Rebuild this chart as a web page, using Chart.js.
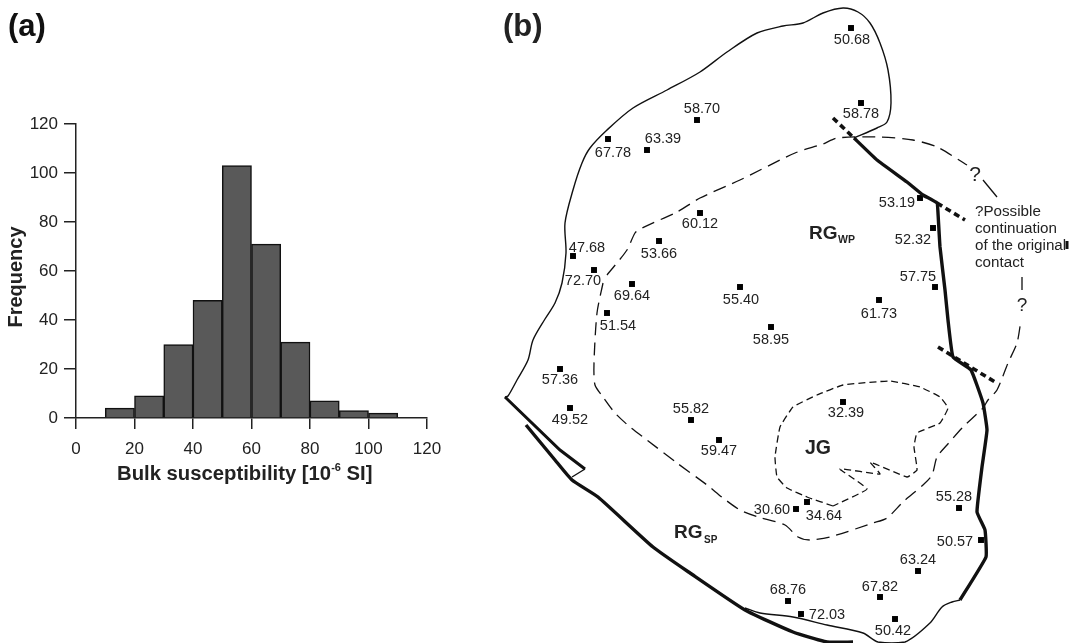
<!DOCTYPE html>
<html>
<head>
<meta charset="utf-8">
<title>Bulk susceptibility</title>
<script src="https://cdn.jsdelivr.net/npm/chart.js@4"></script>
<style>
    body { margin: 0; background: #fff; }
    canvas { position: absolute; top: 0; }
    #histChart { left: 0; }
    #mapChart { left: 490px; }
</style>
</head>
<body>
<canvas id="histChart" width="490" height="643"></canvas>
<canvas id="mapChart" width="583" height="643"></canvas>
<script>
// (a) histogram data
const binCenters = [15, 25, 35, 45, 55, 65, 75, 85, 95, 105];
const frequency = [4, 9, 30, 48, 103, 71, 31, 7, 3, 2];

// (b) sample sites, in map units
const sampleX = [851, 861, 697, 647, 608, 700, 659, 573, 594, 632, 740, 607, 920, 933, 935, 879, 771, 560, 570, 691, 719, 796, 807, 843, 959, 981, 918, 880, 788, 801, 895];
const sampleY = [28, 103, 120, 150, 139, 213, 241, 256, 270, 284, 287, 313, 198, 228, 287, 300, 327, 369, 408, 420, 440, 509, 502, 402, 508, 540, 571, 597, 601, 614, 619];
const sampleValues = ["50.68", "58.78", "58.70", "63.39", "67.78", "60.12", "53.66", "47.68", "72.70", "69.64", "55.40", "51.54", "53.19", "52.32", "57.75", "61.73", "58.95", "57.36", "49.52", "55.82", "59.47", "30.60", "34.64", "32.39", "55.28", "50.57", "63.24", "67.82", "68.76", "72.03", "50.42"];
const labelX = [852, 861, 702, 663, 613, 700, 659, 587, 583, 632, 741, 618, 897, 913, 918, 879, 771, 560, 570, 691, 719, 772, 824, 846, 954, 955, 918, 880, 788, 827, 893];
const labelY = [39, 113, 108, 138, 152, 223, 253, 247, 280, 295, 299, 325, 202, 239, 276, 313, 339, 379, 419, 408, 450, 509, 515, 412, 496, 541, 559, 586, 589, 614, 630];

// map lines
const outlineNorth = [[505, 397], [508, 396], [517, 380], [528, 360], [533, 340], [545, 319], [555, 303], [562, 283], [566, 253], [565, 223], [573, 190], [582, 163], [590, 148], [607, 130], [633, 108], [667, 90], [700, 72], [727, 52], [757, 33], [783, 26], [803, 23], [823, 13], [843, 8], [858, 12], [870, 23], [880, 43], [888, 70], [891, 103], [887, 122], [877, 128], [854, 138]];
const outlineSouth = [[960, 600], [952, 602], [942, 607], [930, 623], [905, 642], [878, 642], [863, 633], [827, 625], [793, 617], [760, 613], [745, 608]];
const outlineTab = [[585, 469], [572, 477]];
const contactEast = [[854, 138], [877, 160], [907, 182], [923, 195], [937, 203], [938, 213], [940, 247], [945, 290], [948, 320], [953, 357], [971, 370], [983, 403], [987, 430], [982, 467], [977, 512], [985, 530], [986, 557], [960, 600]];
const contactWest = [[505, 397], [560, 450], [585, 469]];
const contactSouth = [[526, 425], [555, 460], [572, 480], [598, 497], [653, 547], [690, 573], [745, 610], [793, 632], [827, 642], [853, 642]];
const faultNorth = [[833, 118], [854, 138]];
const faultMiddle = [[937, 203], [965, 220]];
const faultSouth = [[938, 347], [995, 382]];
const innerContact = [[603, 283], [597, 313], [594, 363], [595, 385], [603, 397], [615, 413], [630, 427], [647, 440], [677, 463], [707, 485], [723, 498], [740, 510], [758, 517], [785, 525], [798, 537], [810, 540], [830, 537], [873, 523], [887, 518], [903, 502], [923, 485], [932, 475], [937, 457], [947, 445], [963, 427], [983, 408], [988, 400], [997, 390], [1008, 363], [1017, 343], [1021, 320]];
const innerContactNorth = [[607, 275], [627, 250], [635, 233], [642, 228], [677, 212], [700, 198], [740, 180], [795, 153], [823, 144], [837, 138], [880, 137], [913, 140], [937, 147], [967, 165]];
const innerContactEast = [[983, 180], [997, 197]];
const innerContactStub = [[1022, 277], [1022, 290]];
const graniteOutline = [[833, 506], [807, 497], [787, 488], [777, 477], [775, 457], [780, 427], [793, 407], [817, 395], [843, 385], [890, 381], [920, 387], [940, 397], [948, 408], [940, 423], [917, 433], [914, 447], [917, 470], [907, 477], [870, 462], [880, 474], [840, 469], [867, 489], [833, 506]];
const stray = [[1067, 241], [1067, 249]];

// plugin for the text chart.js has no slot for
const textPlugin = {
    id: 'panelText',
    afterDraw(chart, args, opts) {
        const ctx = chart.ctx;
        ctx.save();
        opts.draw(ctx, chart);
        ctx.restore();
    }
};

function put(ctx, str, x, y, font, color, align) {
    ctx.font = font;
    ctx.fillStyle = color || '#222';
    ctx.textAlign = align || 'center';
    ctx.textBaseline = 'middle';
    ctx.fillText(str, x, y);
}

const sans = '"Liberation Sans"';

new Chart(document.getElementById('histChart'), {
    type: 'bar',
    data: {
        datasets: [{
            data: binCenters.map((x, i) => ({ x: x, y: frequency[i] })),
            backgroundColor: '#595959',
            borderColor: '#111',
            borderWidth: 1.5,
            barPercentage: 1,
            categoryPercentage: 1
        }]
    },
    options: {
        responsive: false,
        animation: false,
        layout: { padding: { top: 124, right: 63, bottom: 170, left: 0 } },
        plugins: {
            legend: { display: false },
            tooltip: { enabled: false },
            panelText: {
                draw(ctx) {
                    put(ctx, '(a)', 8, 27, 'bold 31px ' + sans, '#111', 'left');
                    ctx.save();
                    ctx.translate(16, 277);
                    ctx.rotate(-Math.PI / 2);
                    put(ctx, 'Frequency', 0, 0, 'bold 20px ' + sans, '#222');
                    ctx.restore();
                    put(ctx, 'Bulk susceptibility [10', 117, 474, 'bold 20.3px ' + sans, '#222', 'left');
                    const w = ctx.measureText('Bulk susceptibility [10').width;
                    put(ctx, '-6', 117 + w, 468, 'bold 11px ' + sans, '#222', 'left');
                    const w2 = ctx.measureText('-6').width;
                    put(ctx, ' SI]', 117 + w + w2, 474, 'bold 20.3px ' + sans, '#222', 'left');
                }
            }
        },
        scales: {
            x: {
                type: 'linear',
                offset: false,
                min: 0,
                max: 120,
                ticks: { stepSize: 20, color: '#222', padding: 10, maxRotation: 0, font: { family: 'Liberation Sans', size: 17 } },
                grid: { offset: false, drawOnChartArea: false, color: '#222', lineWidth: 1.5, tickLength: 11 },
                border: { color: '#222', width: 1.5 },
                afterFit(scale) { scale.height = 55; }
            },
            y: {
                min: 0,
                max: 120,
                ticks: { stepSize: 20, color: '#222', padding: 6, font: { family: 'Liberation Sans', size: 17 } },
                grid: { drawOnChartArea: false, color: '#222', lineWidth: 1.5, tickLength: 12 },
                border: { color: '#222', width: 1.5 },
                afterFit(scale) { scale.width = 76; }
            }
        }
    },
    plugins: [textPlugin]
});

function mapLine(points, width, dash, tension) {
    return {
        data: points,
        showLine: true,
        pointRadius: 0,
        borderColor: '#111',
        borderWidth: width,
        borderDash: dash || [],
        tension: tension || 0,
        clip: false
    };
}

new Chart(document.getElementById('mapChart'), {
    type: 'scatter',
    data: {
        datasets: [
            mapLine(outlineNorth, 1.4, null, 0.3),
            mapLine(outlineSouth, 1.4, null, 0.3),
            mapLine(outlineTab, 1.4),
            mapLine(contactEast, 3.4, null, 0.1),
            mapLine(contactWest, 3),
            mapLine(contactSouth, 3.4, null, 0.15),
            mapLine(faultNorth, 3.6, [6, 4]),
            mapLine(faultMiddle, 3.6, [6, 4]),
            mapLine(faultSouth, 3.6, [6, 4]),
            mapLine(innerContact, 1.3, [13, 7], 0.25),
            mapLine(innerContactNorth, 1.3, [13, 7], 0.25),
            mapLine(innerContactEast, 1.3),
            mapLine(innerContactStub, 1.3),
            mapLine(graniteOutline, 1.3, [7, 4], 0.1),
            mapLine(stray, 3),
            {
                data: sampleX.map((x, i) => ({ x: x, y: sampleY[i] })),
                pointStyle: 'rect',
                pointRadius: 4.2,
                pointBorderWidth: 0,
                backgroundColor: '#000'
            }
        ]
    },
    options: {
        responsive: false,
        animation: false,
        layout: { autoPadding: false },
        plugins: {
            legend: { display: false },
            tooltip: { enabled: false },
            panelText: {
                draw(ctx, chart) {
                    const px = chart.scales.x, py = chart.scales.y;
                    const at = (s, x, y, font, align) => put(ctx, s, px.getPixelForValue(x), py.getPixelForValue(y) + 1, font, '#222', align);
                    sampleValues.forEach((v, i) => at(v, labelX[i], labelY[i], '14.5px ' + sans));
                    at('(b)', 503, 26, 'bold 31px ' + sans, 'left');
                    at('RG', 809, 233, 'bold 19px ' + sans, 'left');
                    at('WP', 838, 239, 'bold 10.5px ' + sans, 'left');
                    at('RG', 674, 532, 'bold 19px ' + sans, 'left');
                    at('SP', 704, 539, 'bold 10px ' + sans, 'left');
                    at('JG', 805, 448, 'bold 19.5px ' + sans, 'left');
                    at('?', 975, 174, '21px ' + sans);
                    at('?', 1022, 305, '19px ' + sans);
                    at('?Possible', 975, 211, '15.2px ' + sans, 'left');
                    at('continuation', 975, 228, '15.2px ' + sans, 'left');
                    at('of the original', 975, 245, '15.2px ' + sans, 'left');
                    at('contact', 975, 262, '15.2px ' + sans, 'left');
                }
            }
        },
        scales: {
            x: { type: 'linear', min: 490, max: 1073, display: false },
            y: { type: 'linear', min: 0, max: 643, reverse: true, display: false }
        }
    },
    plugins: [textPlugin]
});
</script>
</body>
</html>
